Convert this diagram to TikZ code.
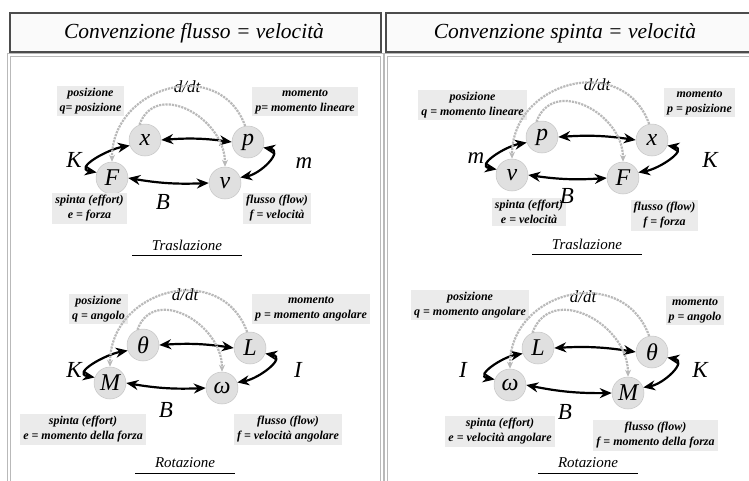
\documentclass[tikz,border=0pt]{standalone}
\usepackage{fontspec}
\setmainfont{Liberation Serif}
\usetikzlibrary{arrows.meta}

\tikzset{
  var/.style={circle, fill=gray!24, draw=gray!45, line width=0.5pt,
    minimum size=32pt, inner sep=0pt, font=\fontsize{24}{24}\selectfont\itshape},
  info/.style={fill=gray!16, align=center, inner xsep=3pt, inner ysep=2.5pt,
    font=\fontsize{12}{15}\selectfont\bfseries\itshape},
  coef/.style={font=\fontsize{23}{23}\selectfont\itshape},
  deriv/.style={font=\fontsize{17}{17}\selectfont\itshape},
  bond/.style={{Stealth[length=12pt,width=10pt]}-{Stealth[length=12pt,width=10pt]}, line width=2.2pt},
  ddt/.style={-{Stealth[length=7pt,width=6pt]}, draw=gray!55, line width=2.2pt, densely dotted},
  title/.style={font=\fontsize{15}{15}\selectfont\itshape},
  header/.style={draw=black!70, fill=gray!4, line width=2pt},
  panel/.style={draw=gray!55, double=white, double distance=1.5pt, line width=0.8pt},
}

\begin{document}
\begin{tikzpicture}[x=1pt,y=1pt]
    \useasboundingbox (0,0) rectangle (749,-480);
    \clip (0,0) rectangle (749,-480);

    % frames
    \draw[panel] (9,-55) rectangle (382,-500);
    \draw[panel] (386,-55) rectangle (770,-500);
    \draw[header] (10,-13) rectangle (381,-52);
    \draw[header] (386,-13) rectangle (770,-52);
    \node[font=\fontsize{21.5}{21.5}\selectfont\itshape] (hflow) at (194,-33) {Convenzione flusso = velocità};
    \node[font=\fontsize{21.5}{21.5}\selectfont\itshape] (hpush) at (565,-33) {Convenzione spinta = velocità};

    % flow = velocity, translation
    \node[var] (Ax) at (145,-140) {x};
    \node[var] (Ap) at (248,-142) {p};
    \node[var] (AF) at (112,-178) {F};
    \node[var] (Av) at (225,-183) {v};
    \node[info] at (90.5,-101) {posizione\\q= posizione};
    \node[info] at (305,-101.5) {momento\\p= momento lineare};
    \node[info] at (89.5,-208) {spinta (effort)\\e = forza};
    \node[info] at (277,-208.5) {flusso (flow)\\f = velocità};
    \node[coef] at (74,-160) {K};
    \node[coef] at (304,-163) {m};
    \node[coef] at (163,-202) {B};
    \node[deriv] at (187,-87) {d/dt};
    \draw[bond] (Ax.east) to[bend left=6] (Ap.west);
    \draw[bond] (AF.east) to[bend right=6] (Av.west);
    \draw[bond] (Ax.200) to[out=190, in=170, looseness=1.4] (AF.160);
    \draw[bond] (Ap.340) to[out=-10, in=10, looseness=1.4] (Av.20);
    \draw[ddt] (Ax.110) to[out=70, in=90, looseness=1.3] (Av.north);
    \draw[ddt] (Ap.100) to[out=110, in=90, looseness=1.4] (AF.north);
    \node[title] (trA) at (187,-245) {Traslazione};
    \draw[line width=1pt] ([xshift=-16pt,yshift=-2pt]trA.south west) -- ([xshift=16pt,yshift=-2pt]trA.south east);

    % flow = velocity, rotation
    \node[var] (Bth) at (143,-345) {θ};
    \node[var] (BL) at (250,-348) {L};
    \node[var] (BM) at (110,-383) {M};
    \node[var] (Bom) at (222,-388) {ω};
    \node[info] at (98.5,-309) {posizione\\q = angolo};
    \node[info] at (311,-309) {momento\\p = momento angolare};
    \node[info] at (83,-429.5) {spinta (effort)\\e = momento della forza};
    \node[info] at (288,-429.5) {flusso (flow)\\f = velocità angolare};
    \node[coef] at (74,-370) {K};
    \node[coef] at (298,-370) {I};
    \node[coef] at (166,-410) {B};
    \node[deriv] at (185,-295) {d/dt};
    \draw[bond] (Bth.east) to[bend left=6] (BL.west);
    \draw[bond] (BM.east) to[bend right=6] (Bom.west);
    \draw[bond] (Bth.200) to[out=190, in=170, looseness=1.4] (BM.160);
    \draw[bond] (BL.340) to[out=-10, in=10, looseness=1.4] (Bom.20);
    \draw[ddt] (Bth.110) to[out=70, in=90, looseness=1.3] (Bom.north);
    \draw[ddt] (BL.100) to[out=110, in=90, looseness=1.4] (BM.north);
    \node[title] (roA) at (185,-463) {Rotazione};
    \draw[line width=1pt] ([xshift=-16pt,yshift=-2pt]roA.south west) -- ([xshift=16pt,yshift=-2pt]roA.south east);

    % effort = velocity, translation
    \node[var] (Cp) at (542,-137) {p};
    \node[var] (Cx) at (652,-140) {x};
    \node[var] (Cv) at (512,-175) {v};
    \node[var] (CF) at (623,-178) {F};
    \node[info] at (472.5,-105) {posizione\\q = momento lineare};
    \node[info] at (699.5,-102.5) {momento\\p = posizione};
    \node[info] at (529,-212) {spinta (effort)\\e = velocità};
    \node[info] at (664.5,-215) {flusso (flow)\\f = forza};
    \node[coef] at (476,-158) {m};
    \node[coef] at (710,-160) {K};
    \node[coef] at (567,-196) {B};
    \node[deriv] at (597,-85) {d/dt};
    \draw[bond] (Cp.east) to[bend left=6] (Cx.west);
    \draw[bond] (Cv.east) to[bend right=6] (CF.west);
    \draw[bond] (Cp.200) to[out=190, in=170, looseness=1.4] (Cv.160);
    \draw[bond] (Cx.340) to[out=-10, in=10, looseness=1.4] (CF.20);
    \draw[ddt] (Cp.110) to[out=70, in=90, looseness=1.3] (CF.north);
    \draw[ddt] (Cx.100) to[out=110, in=90, looseness=1.4] (Cv.north);
    \node[title] (trC) at (587,-244) {Traslazione};
    \draw[line width=1pt] ([xshift=-16pt,yshift=-2pt]trC.south west) -- ([xshift=16pt,yshift=-2pt]trC.south east);

    % effort = velocity, rotation
    \node[var] (DL) at (538,-348) {L};
    \node[var] (Dth) at (652,-352) {θ};
    \node[var] (Dom) at (510,-385) {ω};
    \node[var] (DM) at (628,-393) {M};
    \node[info] at (470,-305) {posizione\\q = momento angolare};
    \node[info] at (695,-310.5) {momento\\p = angolo};
    \node[info] at (500,-431.5) {spinta (effort)\\e = velocità angolare};
    \node[info] at (655.5,-435.5) {flusso (flow)\\f = momento della forza};
    \node[coef] at (463,-370) {I};
    \node[coef] at (700,-370) {K};
    \node[coef] at (565,-412) {B};
    \node[deriv] at (583,-297) {d/dt};
    \draw[bond] (DL.east) to[bend left=6] (Dth.west);
    \draw[bond] (Dom.east) to[bend right=6] (DM.west);
    \draw[bond] (DL.200) to[out=190, in=170, looseness=1.4] (Dom.160);
    \draw[bond] (Dth.340) to[out=-10, in=10, looseness=1.4] (DM.20);
    \draw[ddt] (DL.110) to[out=70, in=90, looseness=1.3] (DM.north);
    \draw[ddt] (Dth.100) to[out=110, in=90, looseness=1.4] (Dom.north);
    \node[title] (roC) at (588,-463) {Rotazione};
    \draw[line width=1pt] ([xshift=-16pt,yshift=-2pt]roC.south west) -- ([xshift=16pt,yshift=-2pt]roC.south east);
\end{tikzpicture}
\end{document}
